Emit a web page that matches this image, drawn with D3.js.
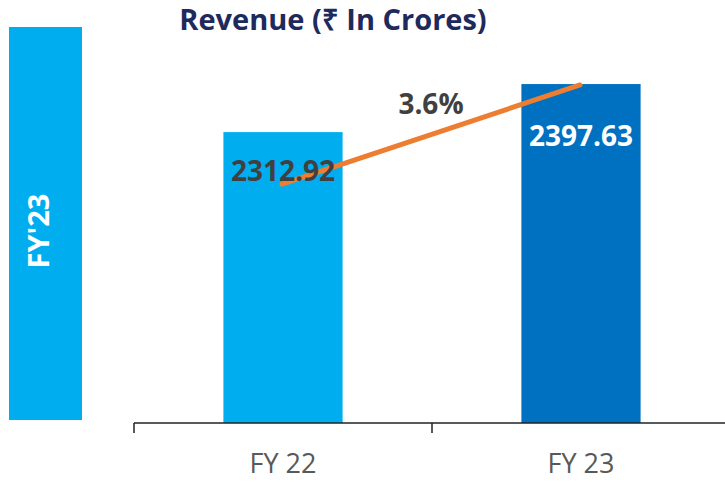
<!DOCTYPE html>
<html>
<head>
<meta charset="utf-8">
<script src="https://cdn.jsdelivr.net/npm/d3@7"></script>
<style>
  body { margin: 0; background: #fff; }
  svg { display: block; font-family: "Open Sans", sans-serif; }
</style>
</head>
<body>
<div id="chart"></div>
<script>
'use strict';

// data
const categories = ['FY 22', 'FY 23'];
const revenue = [2312.92, 2397.63];
const trendValues = [2221, 2396];   // orange growth line
const growthLabel = '3.6%';
const sideLabel = "FY'23";
const title = 'Revenue (₹ In Crores)';

const width = 725, height = 482;

const svg = d3.select('#chart')
  .append('svg')
    .attr('width', width)
    .attr('height', height);

// side panel
svg.append('rect')
    .attr('x', 9)
    .attr('y', 27)
    .attr('width', 73)
    .attr('height', 393)
    .attr('fill', '#00AEEF');

svg.append('text')
    .attr('transform', 'translate(48.5,231) rotate(-90)')
    .attr('text-anchor', 'middle')
    .attr('font-size', 29)
    .attr('font-weight', 700)
    .attr('fill', '#fff')
    .text(sideLabel);

// title
svg.append('text')
    .attr('x', 333)
    .attr('y', 30)
    .attr('text-anchor', 'middle')
    .attr('font-size', 29)
    .attr('font-weight', 700)
    .attr('fill', '#1F2A5C')
    .text(title);

// scales
const x = d3.scaleBand()
  .domain(categories)
  .range([134, 730])
  .padding(0);

const y = d3.scaleLinear()
  .domain([1800, 2500])
  .range([423, 26]);

const barW = x.bandwidth() * 0.4;
const colors = ['#00AEEF', '#0070C0'];

// bars
svg.selectAll('.bar')
  .data(categories)
  .join('rect')
    .attr('class', 'bar')
    .attr('x', d => x(d) + (x.bandwidth() - barW) / 2)
    .attr('y', (d, i) => y(revenue[i]))
    .attr('width', barW)
    .attr('height', (d, i) => y.range()[0] - y(revenue[i]))
    .attr('fill', (d, i) => colors[i]);

// x axis: labels at centres, ticks at band edges
const axis = svg.append('g')
    .attr('transform', `translate(0,${y.range()[0]})`);

axis.call(d3.axisBottom(x).tickSize(0).tickPadding(0))
  .call(g => g.select('.domain').remove())
  .selectAll('text')
    .attr('y', 50)
    .attr('dy', 0)
    .attr('font-size', 27)
    .attr('font-family', '"Open Sans", sans-serif')
    .attr('fill', '#595959');

axis.append('line')
    .attr('x1', x.range()[0])
    .attr('x2', x.range()[1])
    .attr('stroke', '#222')
    .attr('stroke-width', 1.5);

axis.selectAll('.edge')
  .data(categories)
  .join('line')
    .attr('class', 'edge')
    .attr('x1', d => x(d))
    .attr('x2', d => x(d))
    .attr('y1', 0)
    .attr('y2', 10)
    .attr('stroke', '#222')
    .attr('stroke-width', 1.5);

// trend line
svg.append('path')
    .datum(trendValues)
    .attr('fill', 'none')
    .attr('stroke', '#ED7D31')
    .attr('stroke-width', 5)
    .attr('stroke-linecap', 'round')
    .attr('d', d3.line()
      .x((d, i) => x(categories[i]) + x.bandwidth() / 2 - 1)
      .y(d => y(d)));

// value labels
const labelOffsets = [49, 62];
const labelColors = ['#404040', '#fff'];
svg.selectAll('.val')
  .data(revenue)
  .join('text')
    .attr('class', 'val')
    .attr('x', (d, i) => x(categories[i]) + x.bandwidth() / 2)
    .attr('y', (d, i) => y(d) + labelOffsets[i])
    .attr('text-anchor', 'middle')
    .attr('font-size', 28)
    .attr('font-weight', 700)
    .attr('fill', (d, i) => labelColors[i])
    .text(d => d.toFixed(2));

// growth label
svg.append('text')
    .attr('x', x(categories[1]) - 1)
    .attr('y', y(revenue[1]) + 30)
    .attr('text-anchor', 'middle')
    .attr('font-size', 28)
    .attr('font-weight', 700)
    .attr('fill', '#404040')
    .text(growthLabel);
</script>
</body>
</html>
